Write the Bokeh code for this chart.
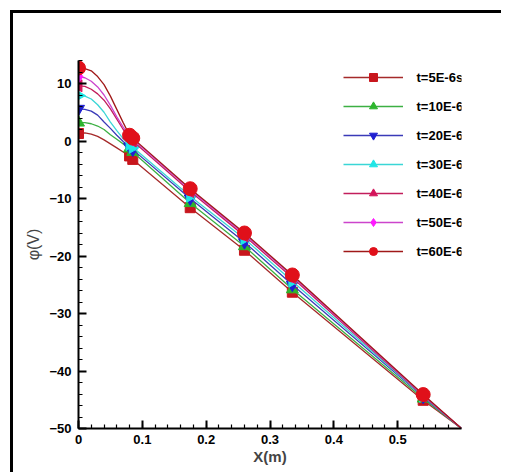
import math
from bokeh.plotting import figure
from bokeh.models import (Range1d, SingleIntervalTicker, CustomJSTickFormatter,
                          Legend, LegendItem, Label)
from bokeh.embed import file_html
from bokeh.resources import INLINE

# ---- data ----
x_line = [0.0, 0.01, 0.02, 0.03, 0.04, 0.05, 0.06, 0.07, 0.08, 0.085,
          0.175, 0.26, 0.335, 0.54, 0.6]
x_mark = [0.0, 0.08, 0.085, 0.175, 0.26, 0.335, 0.54]

labels = ["t=5E-6s", "t=10E-6s", "t=20E-6s", "t=30E-6s",
          "t=40E-6s", "t=50E-6s", "t=60E-6s"]

phi_5 = [1.3, 1.4, 1.2, 0.8, 0.2, -0.5, -1.2, -1.9, -2.6, -3.2,
         -11.6, -19.0, -26.3, -45.1, -50.0]
phi_10 = [3.2, 3.2, 3.0, 2.6, 2.0, 1.1, 0.3, -0.5, -1.3, -1.9,
          -10.8, -18.3, -25.8, -44.8, -50.0]
phi_20 = [5.6, 5.5, 5.2, 4.5, 3.3, 2.2, 1.0, -0.1, -1.0, -1.5,
          -10.0, -17.6, -25.0, -44.5, -50.0]
phi_30 = [7.9, 7.8, 7.3, 6.3, 5.0, 3.3, 1.8, 0.4, -0.6, -1.1,
          -9.6, -17.0, -24.4, -44.4, -50.0]
phi_40 = [9.6, 9.5, 9.0, 8.2, 7.1, 5.6, 3.8, 2.0, 0.5, 0.0,
          -8.8, -16.5, -23.8, -44.3, -50.0]
phi_50 = [11.2, 11.0, 10.4, 9.4, 8.0, 6.2, 4.2, 2.4, 0.8, 0.3,
          -8.5, -16.2, -23.5, -44.2, -50.0]
phi_60 = [12.7, 12.6, 12.2, 11.2, 9.8, 7.8, 5.5, 3.2, 1.0, 0.5,
          -8.3, -16.0, -23.3, -44.1, -50.0]

series = [phi_5, phi_10, phi_20, phi_30, phi_40, phi_50, phi_60]

# ---- styles ----
line_colors = ["#a52a2a", "#3cb043", "#3a3ab8", "#3ad6d6", "#c21e5c", "#cc44cc", "#a01818"]
mark_colors = ["#c8161d", "#2db52d", "#1f1fd1", "#1fe6e6", "#d4145a", "#ff1aff", "#e0101a"]
mark_types = ["square", "triangle", "inverted_triangle", "triangle", "triangle", "diamond", "circle"]
mark_angles = [0, 0, 0, -math.pi / 2, math.pi / 2, 0, 0]
mark_sizes = [10, 12, 12, 12, 12, 13, 14]

FONT = "Liberation Sans"
FRAME_W, FRAME_H = 383, 368
X0, X1, Y0, Y1 = 0, 0.6, -50, 14

p = figure(frame_width=FRAME_W, frame_height=FRAME_H,
           x_range=Range1d(X0, X1), y_range=Range1d(Y0, Y1),
           output_backend="svg", toolbar_location=None,
           min_border_left=65, min_border_right=40,
           min_border_top=47, min_border_bottom=44)
p.margin = (10, 0, 0, 10)
p.styles = {"border-left": "3px solid black", "border-top": "3px solid black"}

p.outline_line_color = None
p.xgrid.visible = False
p.ygrid.visible = False

p.xaxis.ticker = SingleIntervalTicker(interval=0.1, num_minor_ticks=5)
p.yaxis.ticker = SingleIntervalTicker(interval=10, num_minor_ticks=5)
p.xaxis.formatter = CustomJSTickFormatter(code="return tick.toFixed(1).replace(/\\.0$/, '');")

for ax in (p.xaxis[0], p.yaxis[0]):
    ax.axis_line_width = 2
    ax.axis_line_color = "black"
    ax.major_tick_in = 8
    ax.major_tick_out = 0
    ax.minor_tick_in = 4
    ax.minor_tick_out = 0
    ax.major_tick_line_width = 2
    ax.minor_tick_line_width = 1.2
    ax.major_label_text_font = FONT
    ax.major_label_text_font_style = "bold"
    ax.major_label_text_font_size = "13px"
    ax.major_label_text_color = "black"

p.xaxis.major_label_standoff = 6
p.yaxis.major_label_standoff = 7

p.xaxis.axis_label = "X(m)"
p.xaxis.axis_label_text_font = FONT
p.xaxis.axis_label_text_font_style = "bold"
p.xaxis.axis_label_text_font_size = "15px"
p.xaxis.axis_label_standoff = 1

p.yaxis.axis_label = "φ(V)"
p.yaxis.axis_label_text_font = FONT
p.yaxis.axis_label_text_font_style = "normal"
p.yaxis.axis_label_text_font_size = "16px"
p.yaxis.axis_label_standoff = 4

# legend geometry (screen pixels relative to the plot frame)
LEG_X, LEG_Y, ROW = 265, 167, 29
GLYPH_W, GLYPH_H, STANDOFF = 60, 20, 13

n = len(series)
for i, ys in enumerate(series):
    lr = p.line(x_line, ys, line_color=line_colors[i], line_width=1.3)
    ym = [ys[x_line.index(xm)] for xm in x_mark]
    sr = p.scatter(x_mark, ym, marker=mark_types[i], size=mark_sizes[i],
                   angle=mark_angles[i], fill_color=mark_colors[i],
                   line_color=mark_colors[i])
    # legend sample (line + marker); its text is drawn as a Label below
    leg = Legend(items=[LegendItem(label=" ", renderers=[lr, sr])],
                 location=(LEG_X, LEG_Y + (n - 1 - i) * ROW))
    leg.glyph_width = GLYPH_W
    leg.glyph_height = GLYPH_H
    leg.spacing = 0
    leg.padding = 0
    leg.margin = 0
    leg.label_standoff = 0
    leg.label_width = 1
    leg.label_text_font_size = "1px"
    leg.border_line_alpha = 0
    leg.background_fill_alpha = 0
    p.add_layout(leg, "center")

    # legend text, placed at the same row (converted from frame pixels to data)
    row_px_from_bottom = LEG_Y + (n - 1 - i) * ROW + GLYPH_H / 2
    lx = X0 + (LEG_X + GLYPH_W + STANDOFF) / FRAME_W * (X1 - X0)
    ly = Y0 + row_px_from_bottom / FRAME_H * (Y1 - Y0)
    p.add_layout(Label(x=lx, y=ly, text=labels[i], text_font=FONT,
                       text_font_style="bold", text_font_size="13px",
                       text_baseline="middle", text_align="left",
                       text_color="black"))

open("out.html", "w").write(file_html(p, INLINE))
